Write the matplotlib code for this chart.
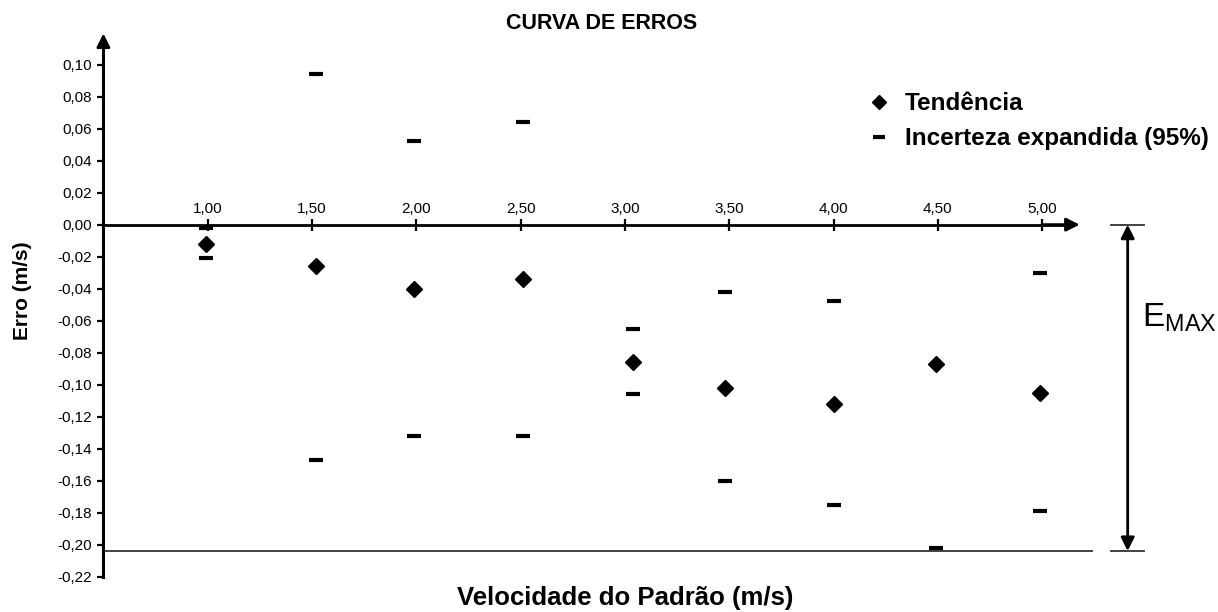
import matplotlib
matplotlib.use('Agg')
import matplotlib.pyplot as plt
import numpy as np

plt.rcParams['font.family'] = ['Liberation Sans', 'DejaVu Sans']
plt.rcParams['mathtext.fontset'] = 'custom'
plt.rcParams['mathtext.rm'] = 'Liberation Sans'

# velocidade do padrão (m/s) e erros medidos (m/s)
velocidade = [0.99, 1.52, 1.99, 2.51, 3.04, 3.48, 4.00, 4.49, 4.99]
tendencia = [-0.012, -0.026, -0.040, -0.034, -0.086, -0.102, -0.112, -0.087, -0.105]
inc_sup = [-0.002, 0.094, 0.052, 0.064, -0.065, -0.042, -0.048, np.nan, -0.030]
inc_inf = [-0.021, -0.147, -0.132, -0.132, -0.106, -0.160, -0.175, -0.202, -0.179]
e_max = -0.204

x_ticks = [1.0, 1.5, 2.0, 2.5, 3.0, 3.5, 4.0, 4.5, 5.0]
y_ticks = np.round(np.arange(-0.22, 0.101, 0.02), 2)


def fmt(v):
    if abs(v) < 1e-9:
        v = 0.0
    return '{:.2f}'.format(v).replace('.', ',')


fig = plt.figure(figsize=(12.18, 6.12), dpi=100)
ax = fig.add_axes([0, 0, 1, 1])
ax.set_xlim(0.0043, 5.843)
ax.set_ylim(-0.2421, 0.1404)

# eixos cruzando em (0.5, 0)
for s in ['right', 'bottom']:
    ax.spines[s].set_visible(False)
ax.spines['left'].set_position(('data', 0.5))
ax.spines['left'].set_bounds(-0.22, 0.11)
ax.spines['left'].set_linewidth(2.2)
ax.spines['top'].set_position(('data', 0.0))
ax.spines['top'].set_bounds(0.5, 5.1)
ax.spines['top'].set_linewidth(2.0)

ax.xaxis.set_ticks_position('top')
ax.set_xticks(x_ticks)
ax.set_xticklabels([fmt(v) for v in x_ticks])
ax.tick_params(axis='x', direction='inout', length=8, width=1.6,
               labelsize=11, pad=2)
ax.set_yticks(y_ticks)
ax.set_yticklabels([fmt(v) for v in y_ticks])
ax.tick_params(axis='y', direction='out', length=4, width=1.6,
               labelsize=11, pad=4)

# pontas de seta dos eixos
arrow = dict(arrowstyle='-|>', color='black', lw=2.0, mutation_scale=20,
             shrinkA=0, shrinkB=0)
ax.annotate('', xy=(0.5, 0.1195), xytext=(0.5, 0.10), arrowprops=arrow)
ax.annotate('', xy=(5.18, 0.0), xytext=(5.0, 0.0), arrowprops=arrow)

# pontos
ax.plot(velocidade, tendencia, ls='', marker='D', ms=8.5, color='black',
        label='Tendência', clip_on=False, zorder=5)
ax.plot(velocidade, inc_sup, ls='', marker='_', ms=9.5, mew=3, color='black',
        label='Incerteza expandida (95%)', clip_on=False, zorder=5)
ax.plot(velocidade, inc_inf, ls='', marker='_', ms=9.5, mew=3, color='black',
        clip_on=False, zorder=5)

# erro máximo
ax.plot([0.5, 5.238], [e_max, e_max], color='#333333', lw=1.3)
ax.plot([5.33, 5.49], [0, 0], color='#333333', lw=1.3)
ax.plot([5.33, 5.49], [e_max, e_max], color='#333333', lw=1.3)
ax.annotate('', xy=(5.41, 0.0), xytext=(5.41, e_max),
            arrowprops=dict(arrowstyle='<|-|>', color='black', lw=2.0,
                            mutation_scale=20, shrinkA=0, shrinkB=0))
ax.text(5.48, -0.058, r'$\mathrm{E_{MAX}}$', fontsize=24, va='center',
        ha='left')

ax.text(2.89, 0.126, 'CURVA DE ERROS', fontsize=15.5, fontweight='bold',
        ha='center', va='center')
ax.text(3.0, -0.2335, 'Velocidade do Padrão (m/s)', fontsize=18.5,
        fontweight='bold', ha='center', va='center')
ax.text(0.11, -0.041, 'Erro (m/s)', fontsize=15, fontweight='bold',
        rotation=90, ha='center', va='center')

ax.legend(loc='upper left', bbox_to_anchor=(0.694, 0.885), frameon=False,
          prop=dict(weight='bold', size=17.5), handletextpad=0.55,
          labelspacing=0.5, handlelength=1.0, markerscale=0.85)

fig.savefig('out.png', dpi=100)
